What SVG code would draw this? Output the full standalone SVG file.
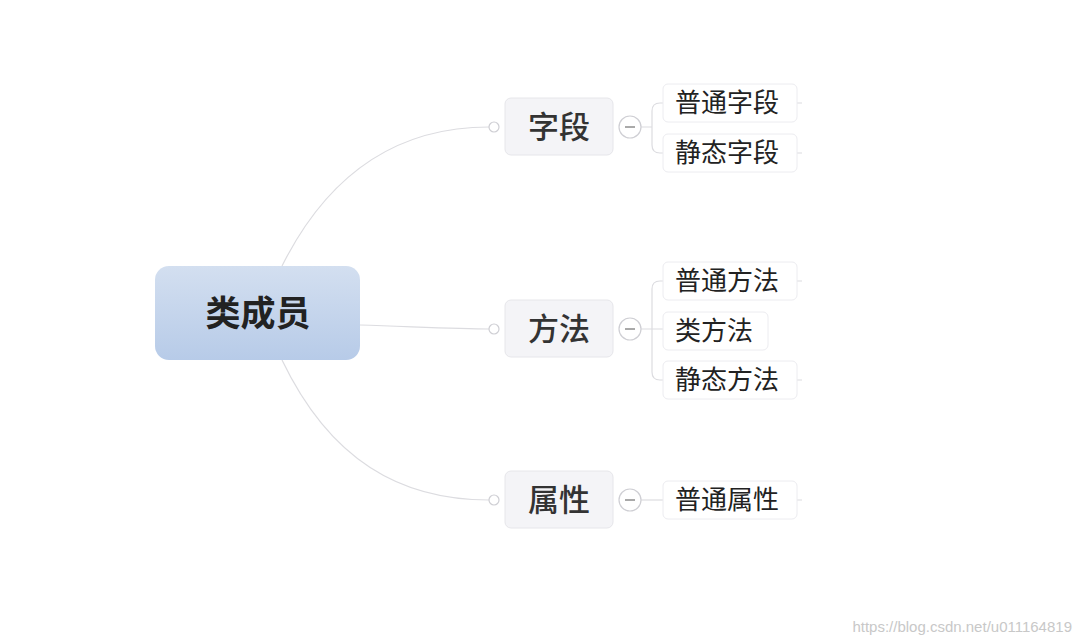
<svg xmlns="http://www.w3.org/2000/svg" width="1080" height="644" viewBox="0 0 1080 644">
<style>
.t{font-family:"Noto Sans CJK SC","Noto Sans",sans-serif;fill:#222}
.mid{font-size:31px;font-weight:500;fill:#333;text-anchor:middle}
.leaf{font-size:26px}
.mb{fill:#f4f4f7;stroke:#e6e6ea;stroke-width:1}
.lb{fill:#fff;stroke:#ececf0;stroke-width:1}
.c{fill:none;stroke:#dcdce0;stroke-width:1.2}
.dot{fill:#fff;stroke:#cfcfd4;stroke-width:1.2}
</style>
<defs><linearGradient id="g" x1="0" y1="0" x2="0" y2="1"><stop offset="0" stop-color="#d3dff0"/><stop offset="1" stop-color="#b7cbe8"/></linearGradient></defs>
<rect width="1080" height="644" fill="#fff"/>
<g id="connectors">
<path class="c" d="M282 266 C330 170 400 127 489 127"/>
<path class="c" d="M360 325 C420 327 460 329 489 329"/>
<path class="c" d="M282 360 C330 460 400 500 489 500"/>
<path class="c" d="M641 127 H652 M663 103 H660 Q652 103 652 111 V145 Q652 153 660 153 H663"/>
<path class="c" d="M641 329 H663 M663 281 H660 Q652 281 652 289 V372 Q652 380 660 380 H663"/>
<path class="c" d="M641 500 H663"/>
<path class="c" d="M797 103 H802 M797 153 H802 M797 281 H802 M797 380 H802 M797 500 H802"/>
</g>
<g id="root"><rect x="155" y="266" width="205" height="94" rx="14" fill="url(#g)"/><text class="t" x="258" y="326" font-size="35" font-weight="bold" fill="#444" text-anchor="middle">类成员</text></g>
<g id="n-field"><circle class="dot" cx="494" cy="127" r="5"/><rect class="mb" x="505" y="98" width="108" height="57" rx="6"/><text class="t mid" x="559" y="138">字段</text><circle class="dot" cx="630" cy="127" r="11"/><path d="M625 127h10" stroke="#555"/></g>
<g id="n-method"><circle class="dot" cx="494" cy="329" r="5"/><rect class="mb" x="505" y="300" width="108" height="57" rx="6"/><text class="t mid" x="559" y="340">方法</text><circle class="dot" cx="630" cy="329" r="11"/><path d="M625 329h10" stroke="#555"/></g>
<g id="n-prop"><circle class="dot" cx="494" cy="500" r="5"/><rect class="mb" x="505" y="471" width="108" height="57" rx="6"/><text class="t mid" x="559" y="511">属性</text><circle class="dot" cx="630" cy="500" r="11"/><path d="M625 500h10" stroke="#555"/></g>
<g id="l1"><rect class="lb" x="663" y="84" width="134" height="38" rx="5"/><text class="t leaf" x="675" y="112">普通字段</text></g>
<g id="l2"><rect class="lb" x="663" y="134" width="134" height="38" rx="5"/><text class="t leaf" x="675" y="162">静态字段</text></g>
<g id="l3"><rect class="lb" x="663" y="262" width="134" height="38" rx="5"/><text class="t leaf" x="675" y="290">普通方法</text></g>
<g id="l4"><rect class="lb" x="663" y="312" width="105" height="38" rx="5"/><text class="t leaf" x="675" y="340">类方法</text></g>
<g id="l5"><rect class="lb" x="663" y="361" width="134" height="38" rx="5"/><text class="t leaf" x="675" y="389">静态方法</text></g>
<g id="l6"><rect class="lb" x="663" y="481" width="134" height="38" rx="5"/><text class="t leaf" x="675" y="509">普通属性</text></g>
<text x="1072" y="632" font-family="Liberation Sans,sans-serif" font-size="15" fill="#c8c8c8" text-anchor="end">https://blog.csdn.net/u011164819</text>
</svg>
